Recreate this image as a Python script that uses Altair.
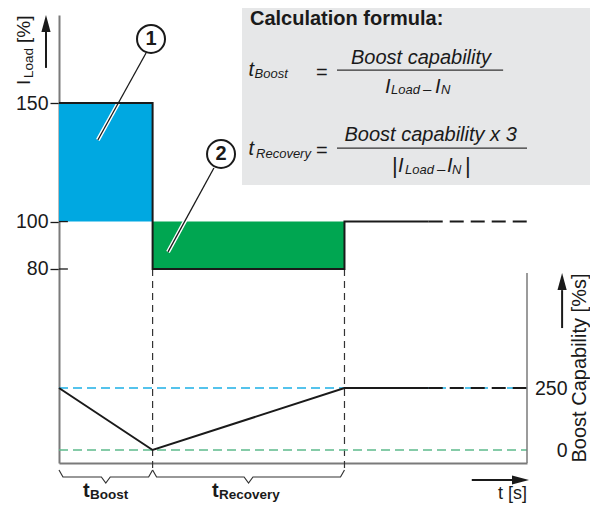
import altair as alt
import pandas as pd

# ---------------- values ----------------
PHASES = ["Boost", "Recovery", "Normal"]
PHASE_START = [0, 20, 61]          # time (schematic units)
PHASE_END = [20, 61, 100]
LOAD_PCT = [150, 80, 100]          # I_Load [%]
NOMINAL_PCT = 100                  # I_N
SOLID_UNTIL = 79                   # curves continue dashed after this time
CAP_TIME = [0, 20, 61, 79]         # Boost capability [%s]
CAP_VALUE = [250, 0, 250, 250]
CAP_FULL = 250
CAP_EMPTY = 0
LOAD_TICKS = [80, 100, 150]
CAP_TICKS = [0, 250]

# ---------------- styles ----------------
FONT = "Liberation Sans"
INK = "#1a1a1a"
AXIS_GREY = "#7a7a7a"
BLUE = "#00a8e1"
GREEN = "#00a651"
BLUE_DASH = "#1cb0e6"
GREEN_DASH = "#5dbb8c"
BOX_GREY = "#e6e7e8"
ARROW = "M0,-1L-0.27,0L0.27,0Z"

X_SCALE = alt.Scale(domain=[0, 100], nice=False, zero=False)
Y_SCALE = alt.Scale(domain=[-1.81, 187.11], nice=False, zero=False)
B_SCALE = alt.Scale(domain=[-52.4, 1754], nice=False, zero=False)

X_AXIS = alt.Axis(labels=False, ticks=False, grid=False,
                  domainColor=AXIS_GREY, domainWidth=2)
Y_AXIS = alt.Axis(orient="left", values=LOAD_TICKS, grid=False,
                  domainColor=AXIS_GREY, domainWidth=2,
                  tickColor=INK, tickWidth=1.3, tickSize=9, labelPadding=2,
                  labelFont=FONT, labelFontSize=19.5, labelColor=INK)
B_AXIS = alt.Axis(orient="right", values=CAP_TICKS, grid=False, domain=False,
                  ticks=False, labelAlign="right", labelPadding=40,
                  labelFont=FONT, labelFontSize=19.5, labelColor=INK)


def ex(field="t"):
    return alt.X(f"{field}:Q", scale=X_SCALE, axis=X_AXIS, title=None)


def ey(field="v"):
    return alt.Y(f"{field}:Q", scale=Y_SCALE, axis=Y_AXIS, title=None)


def eb(field="b"):
    return alt.Y(f"{field}:Q", scale=B_SCALE, axis=B_AXIS, title=None)


def text_layer(rows, size, weight="normal", style="normal", align="left",
               baseline="alphabetic", angle=0):
    df = pd.DataFrame(rows, columns=["label", "t", "v"])
    return alt.Chart(df).mark_text(
        font=FONT, fontSize=size, fontWeight=weight, fontStyle=style,
        align=align, baseline=baseline, angle=angle, color=INK
    ).encode(x=ex(), y=ey(), text="label:N")


# ---------------- I_Load part ----------------
area_df = pd.DataFrame({
    "t": PHASE_START[:2], "t2": PHASE_END[:2],
    "v": [min(p, NOMINAL_PCT) for p in LOAD_PCT[:2]],
    "v2": [max(p, NOMINAL_PCT) for p in LOAD_PCT[:2]],
    "phase": PHASES[:2],
})
step_pts = []
for s, e, p in zip(PHASE_START, PHASE_END, LOAD_PCT):
    step_pts += [(s, p), (min(e, SOLID_UNTIL), p)]
step_df = pd.DataFrame(step_pts, columns=["t", "v"])
step_df["i"] = range(len(step_df))
step_dash_df = pd.DataFrame({"t": [SOLID_UNTIL, PHASE_END[-1]],
                             "v": [LOAD_PCT[-1]] * 2, "i": [0, 1]})

# layout annotations (in axis units)
box_df = pd.DataFrame({"t": [39.1], "t2": [118], "v": [115.4], "v2": [192]})
inner_tick_df = pd.DataFrame({"t": [0] * 3, "t2": [1.9] * 3, "v": LOAD_TICKS})
vdash_df = pd.DataFrame({
    "t": PHASE_END[:2],
    "v": [min(LOAD_PCT[i], LOAD_PCT[i + 1]) for i in range(2)],
    "v2": [-5.6, -5.6]})

brace_rows = []
for k in range(2):
    t0, t1 = PHASE_START[k], PHASE_END[k]
    mid = (t0 + t1) / 2
    pts = [(t0, -4.76), (t0 + 0.85, -7.71), (mid - 0.95, -7.71), (mid, -10.24),
           (mid + 0.95, -7.71), (t1 - 0.85, -7.71), (t1, -4.76)]
    for i, (t, v) in enumerate(pts):
        brace_rows.append({"seg": k, "i": i, "t": t, "v": v})
brace_df = pd.DataFrame(brace_rows)

frac_df = pd.DataFrame({"t": [59.4, 59.4], "t2": [94.9, 100.0], "v": [163.9, 131.0]})
leader_df = pd.DataFrame({
    "seg": [0, 0, 1, 1], "i": [0, 1, 0, 1],
    "t": [18.6, 8.3, 33.1, 23.3], "v": [171.1, 134.4, 122.6, 87.2]})
circle_df = pd.DataFrame({"label": ["1", "2"], "t": [19.66, 34.62], "v": [177.0, 128.5]})

vshaft_df = pd.DataFrame({"t": [-2.78, 107.5], "v": [164.8, 55.1], "v2": [180.0, 71.1]})
hshaft_df = pd.DataFrame({"t": [88.2], "t2": [96.8], "v": [-8.98]})
uphead_df = pd.DataFrame({"t": [-2.78, 107.5], "v": [179.9, 71.1]})
righthead_df = pd.DataFrame({"t": [96.8], "v": [-8.98]})

ink_line = dict(color=INK, strokeWidth=2)

group_a = alt.layer(
    alt.Chart(box_df).mark_rect(color=BOX_GREY).encode(
        x=ex(), x2="t2", y=ey(), y2="v2"),
    alt.Chart(area_df).mark_rect().encode(
        x=ex(), x2="t2", y=ey(), y2="v2",
        color=alt.Color("phase:N", scale=alt.Scale(domain=PHASES[:2], range=[BLUE, GREEN]),
                        legend=None)),
    alt.Chart(inner_tick_df).mark_rule(color=INK, strokeWidth=1.3).encode(
        x=ex(), x2="t2", y=ey()),
    alt.Chart(vdash_df).mark_rule(color="#333333", strokeWidth=1.2, strokeDash=[7, 5]).encode(
        x=ex(), y=ey(), y2="v2"),
    alt.Chart(brace_df).mark_line(color="#333333", strokeWidth=1.2).encode(
        x=ex(), y=ey(), detail="seg:N", order="i:Q"),
    alt.Chart(frac_df).mark_rule(color="#333333", strokeWidth=1.3).encode(
        x=ex(), x2="t2", y=ey()),
    alt.Chart(leader_df).mark_line(color="white", strokeWidth=4).encode(
        x=ex(), y=ey(), detail="seg:N", order="i:Q"),
    alt.Chart(leader_df).mark_line(color=INK, strokeWidth=1.3).encode(
        x=ex(), y=ey(), detail="seg:N", order="i:Q"),
    alt.Chart(step_df).mark_line(**ink_line).encode(x=ex(), y=ey(), order="i:Q"),
    alt.Chart(step_dash_df).mark_line(strokeDash=[14, 7], **ink_line).encode(
        x=ex(), y=ey(), order="i:Q"),
    alt.Chart(circle_df).mark_point(shape="circle", size=784, filled=True, fill="white",
                                    stroke=INK, strokeWidth=2, opacity=1).encode(
        x=ex(), y=ey()),
    text_layer(list(circle_df.itertuples(index=False, name=None)), 20, weight="bold",
               align="center", baseline="middle"),
    # formula box
    text_layer([("Calculation formula:", 40.8, 182.9)], 20, weight="bold"),
    text_layer([("t", 40.5, 161.4), ("t", 40.5, 128.1),
                ("I", 69.66, 154.22), ("I", 80.34, 154.22),
                ("I", 72.44, 120.9), ("I", 82.91, 120.9)], 20, style="italic"),
    text_layer([("Boost", 41.8, 160.5), ("Recovery", 42.1, 126.8),
                ("Load", 70.94, 153.8), ("N", 81.62, 153.8),
                ("Load", 73.93, 120.06), ("N", 83.97, 120.06)], 13, style="italic"),
    text_layer([("=", 54.9, 160.1), ("=", 54.9, 127.2)], 20),
    text_layer([("Boost capability", 77.35, 166.4),
                ("Boost capability x 3", 79.4, 134.0)], 20, style="italic", align="center"),
    text_layer([("–", 77.78, 153.8), ("–", 80.77, 120.06)], 15, style="italic"),
    text_layer([("|", 71.15, 120.69), ("|", 86.75, 120.69)], 22),
    # axis titles
    text_layer([("I", -6.2, 157.6), ("[%]", -6.2, 175.3)], 19, angle=270),
    text_layer([("Load", -5.56, 160.5)], 13.5, angle=270),
    text_layer([("Boost Capability [%s]", 112.6, 38.25)], 20, align="center", angle=270),
    text_layer([("t [s]", 100, -16.99)], 18, align="right"),
    # brace labels
    text_layer([("t", 5.13, -16.15), ("t", 32.69, -16.15)], 20, weight="bold"),
    text_layer([("Boost", 6.62, -16.99), ("Recovery", 34.19, -16.99)], 13.5, weight="bold"),
    # arrows
    alt.Chart(vshaft_df).mark_rule(color=INK, strokeWidth=2).encode(x=ex(), y=ey(), y2="v2"),
    alt.Chart(hshaft_df).mark_rule(color=INK, strokeWidth=2).encode(x=ex(), x2="t2", y=ey()),
    alt.Chart(uphead_df).mark_point(shape=ARROW, size=1156, filled=True, color=INK,
                                    opacity=1, strokeWidth=0).encode(x=ex(), y=ey()),
    alt.Chart(righthead_df).mark_point(shape=ARROW, size=1156, filled=True, color=INK,
                                       opacity=1, strokeWidth=0, angle=90).encode(x=ex(), y=ey()),
)

# ---------------- Boost capability part ----------------
ref_df = pd.DataFrame({"t": [0, 0], "t2": [100, 100], "b": [CAP_FULL, CAP_EMPTY],
                       "kind": ["full", "empty"]})
cap_df = pd.DataFrame({"t": CAP_TIME, "b": CAP_VALUE, "i": range(len(CAP_TIME))})
cap_dash_df = pd.DataFrame({"t": [SOLID_UNTIL, PHASE_END[-1]],
                            "b": [CAP_VALUE[-1]] * 2, "i": [0, 1]})
raxis_df = pd.DataFrame({"t": [100], "b": [713.7], "b2": [-52.4]})

group_b = alt.layer(
    alt.Chart(ref_df[ref_df.kind == "full"]).mark_rule(
        color=BLUE_DASH, strokeWidth=1.3, strokeDash=[9, 5]).encode(x=ex(), x2="t2", y=eb()),
    alt.Chart(ref_df[ref_df.kind == "empty"]).mark_rule(
        color=GREEN_DASH, strokeWidth=1.4, strokeDash=[9, 5]).encode(x=ex(), x2="t2", y=eb()),
    alt.Chart(cap_df).mark_line(**ink_line).encode(x=ex(), y=eb(), order="i:Q"),
    alt.Chart(cap_dash_df).mark_line(strokeDash=[14, 7], **ink_line).encode(
        x=ex(), y=eb(), order="i:Q"),
    alt.Chart(raxis_df).mark_rule(color=AXIS_GREY, strokeWidth=1.5).encode(
        x=ex(), y=eb(), y2="b2"),
)

chart = alt.layer(group_a, group_b).resolve_scale(y="independent").properties(
    width=468, height=448,
    padding={"left": 51, "top": 7, "right": 63, "bottom": 40},
    autosize=alt.AutoSizeParams(type="none"),
    background="white",
).configure_view(strokeWidth=0)

chart.save("out.html", embed_options={"renderer": "svg", "actions": False})
